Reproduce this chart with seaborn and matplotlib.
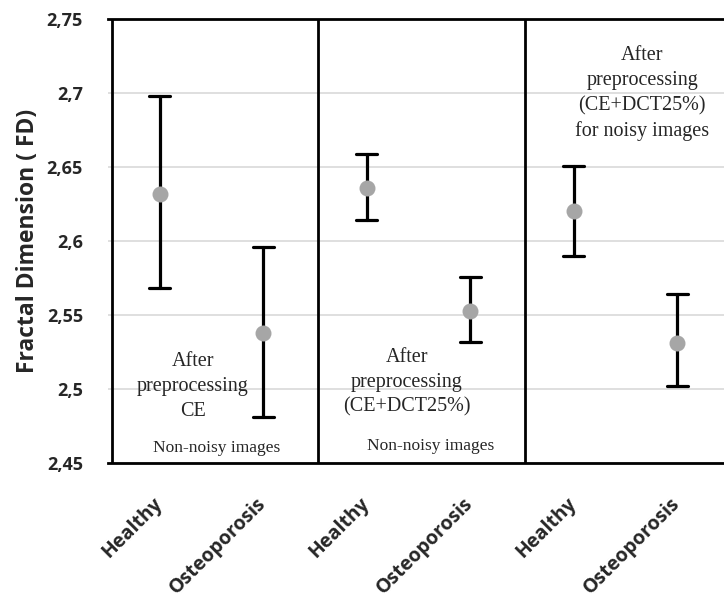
import matplotlib
matplotlib.use("Agg")
import matplotlib.pyplot as plt
import matplotlib.transforms as mtransforms
import seaborn as sns
import pandas as pd

# ---- data ----
categories = ["Healthy", "Osteoporosis", "Healthy", "Osteoporosis", "Healthy", "Osteoporosis"]
fd_mean = [2.632, 2.538, 2.636, 2.553, 2.620, 2.531]
fd_low = [2.568, 2.481, 2.614, 2.532, 2.590, 2.502]
fd_high = [2.698, 2.596, 2.659, 2.576, 2.651, 2.564]
y_ticks = [2.45, 2.50, 2.55, 2.60, 2.65, 2.70, 2.75]
y_tick_labels = ["2,45", "2,5", "2,55", "2,6", "2,65", "2,7", "2,75"]
y_label = "Fractal Dimension ( FD)"
panel_texts = ["After\npreprocessing\nCE",
               "After\npreprocessing\n(CE+DCT25%)",
               "After\npreprocessing\n(CE+DCT25%)\nfor noisy images"]
sub_texts = ["Non-noisy images", "Non-noisy images"]

keys = [f"g{i}" for i in range(len(categories))]
rows = []
for k, lo, m, hi in zip(keys, fd_low, fd_mean, fd_high):
    for v in (lo, m, hi):
        rows.append({"key": k, "fd": v})
df = pd.DataFrame(rows)

sns.set_style("white")
plt.rcParams["font.family"] = ["Open Sans", "DejaVu Sans"]

fig = plt.figure(figsize=(7.24, 5.99), dpi=100)
ax = fig.add_axes([108 / 724, 1 - 463 / 599, (729 - 108) / 724, (463 - 19) / 599])

sns.pointplot(data=df, x="key", y="fd", order=keys, estimator="median",
              errorbar=lambda v: (v.min(), v.max()), linestyle="none",
              marker="o", markersize=11.5, color="#a6a6a6", capsize=0.2,
              err_kws={"color": "black", "linewidth": 2.3}, ax=ax)
for ln in ax.lines:
    if ln.get_marker() == "o":
        ln.set_zorder(5)
        ln.set_markeredgewidth(0)
    else:
        ln.set_zorder(4)

ax.set_xlim(-0.5, len(categories) - 0.5)
ax.set_ylim(2.45, 2.75)
ax.set_yticks(y_ticks)
ax.set_yticklabels(y_tick_labels, fontsize=13, fontweight="bold")
ax.tick_params(axis="y", length=0, pad=18)
ax.set_xticks(range(len(categories)))
ax.set_xticklabels(categories, fontsize=14, fontweight="bold",
                   rotation=45, ha="right", rotation_mode="anchor")
ax.tick_params(axis="x", which="major", length=0, pad=22)
shift = mtransforms.ScaledTranslation(-0.075, 0, fig.dpi_scale_trans)
for lbl in ax.get_xticklabels():
    lbl.set_transform(lbl.get_transform() + shift)
ax.set_xticks([i - 0.5 for i in range(len(categories) + 1)], minor=True)
ax.tick_params(axis="x", which="minor", length=6, width=1, color="#c8c8c8", direction="out")
ax.set_xlabel("")
ax.set_ylabel(y_label, fontsize=16.5, fontweight="bold", labelpad=5)

ax.yaxis.grid(True, color="#d9d9d9", linewidth=1.2)
ax.set_axisbelow(True)

for s in ["left", "right"]:
    ax.spines[s].set_visible(False)
for s in ["top", "bottom"]:
    ax.spines[s].set_color("black")
    ax.spines[s].set_linewidth(2)
for xv in (-0.46, 1.53, 3.53):
    ax.axvline(xv, color="black", linewidth=2, zorder=3)

serif = ["Liberation Serif", "DejaVu Serif"]
ax.text(0.32, 2.5015, panel_texts[0], family=serif, fontsize=14.5, ha="center",
        va="center", linespacing=1.42)
ax.text(2.389, 2.5045, panel_texts[1], family=serif, fontsize=14.5, ha="center",
        va="center", linespacing=1.42)
ax.text(4.66, 2.6995, panel_texts[2], family=serif, fontsize=14.5, ha="center",
        va="center", linespacing=1.42)
ax.text(0.553, 2.4598, sub_texts[0], family=serif, fontsize=12.5, ha="center", va="center")
ax.text(2.62, 2.4612, sub_texts[1], family=serif, fontsize=12.5, ha="center", va="center")

fig.savefig("out.png", dpi=100)
